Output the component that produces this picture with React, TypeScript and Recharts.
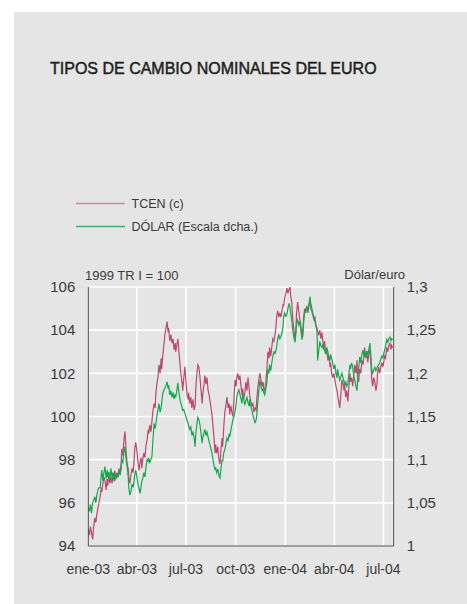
import React from "react";
import { LineChart, Line, XAxis, YAxis, CartesianGrid } from "recharts";

// Days elapsed since 1 Jan 2003 for each observation
const days = [
  0, 2, 4, 6, 8, 10, 12, 14, 16, 19, 22,
  24, 25, 27, 29, 31, 33, 35, 36, 38, 40,
  42, 44, 46, 48, 49, 51, 53, 55, 57, 59,
  61, 62, 64, 66, 68, 70, 72, 74, 75, 77,
  79, 81, 83, 85, 86, 88, 90, 92, 94, 96,
  98, 99, 101, 103, 105, 107, 109, 111, 112, 114,
  116, 118, 120, 122, 124, 125, 127, 129, 131, 133,
  135, 136, 138, 140, 142, 144, 146, 148, 149, 151,
  153, 155, 157, 159, 161, 162, 164, 166, 168, 170,
  172, 174, 175, 177, 179, 181, 183, 185, 186, 188,
  190, 192, 194, 196, 198, 199, 201, 203, 205, 207,
  209, 211, 212, 214, 216, 218, 220, 222, 224, 225,
  227, 229, 231, 233, 235, 236, 238, 240, 242, 244,
  246, 248, 249, 251, 253, 255, 257, 259, 261, 262,
  264, 266, 268, 270, 272, 274, 275, 277, 279, 281,
  283, 285, 286, 288, 290, 292, 294, 296, 298, 299,
  301, 303, 305, 307, 309, 311, 312, 314, 316, 318,
  320, 322, 324, 325, 327, 329, 331, 333, 335, 336,
  338, 340, 342, 344, 346, 348, 349, 351, 353, 355,
  357, 359, 361, 362, 364, 366, 368, 370, 372, 374,
  375, 377, 379, 381, 383, 385, 386, 388, 390, 392,
  394, 396, 398, 399, 401, 403, 405, 407, 409, 411,
  412, 414, 416, 418, 420, 422, 424, 425, 427, 429,
  431, 433, 435, 436, 438, 440, 442, 444, 446, 448,
  449, 451, 453, 455, 457, 459, 461, 462, 464, 466,
  468, 470, 472, 474, 475, 477, 479, 481, 483, 485,
  486, 488, 490, 492, 494, 496, 498, 499, 501, 503,
  505, 507, 509, 511, 512, 514, 516, 518, 520, 522,
  524, 525, 527, 529, 531, 533, 535, 536, 538, 540,
  542, 544, 546, 548, 549, 551, 553, 555, 557, 559,
  561, 562, 564,
];

// TCEN (c), 1999 TR I = 100
const tcen = [
  94.8, 94.5, 94.9, 94.6, 94.3, 94.9, 95.3, 95.1, 95.5, 95.9, 96.3,
  96.7, 96.5, 96.9, 97.2, 97.0, 96.6, 97.1, 96.8, 97.3, 96.9,
  97.2, 96.9, 97.4, 97.0, 97.5, 97.1, 97.4, 97.2, 97.6, 97.3,
  97.9, 98.5, 98.2, 98.9, 99.3, 98.4, 97.8, 97.6, 97.2, 96.9,
  97.3, 97.6, 97.4, 98.0, 98.5, 98.8, 98.4, 97.9, 97.5, 97.9,
  98.1, 97.6, 98.0, 98.3, 98.1, 98.7, 98.9, 99.4, 99.2, 99.6,
  99.3, 99.8, 100.3, 100.6, 100.4, 101.0, 101.5, 101.8, 102.4, 102.0,
  102.7, 102.2, 102.8, 103.3, 103.8, 104.1, 104.4, 103.9, 104.1, 103.5,
  103.8, 103.4, 103.6, 103.1, 103.4, 103.0, 103.3, 103.6, 103.0, 102.4,
  101.9, 101.5, 101.2, 101.8, 102.3, 101.6, 101.0, 100.8, 101.1, 100.6,
  100.9, 100.4, 100.8, 100.3, 100.5, 101.2, 101.9, 102.4, 102.3, 101.8,
  101.2, 100.6, 101.0, 101.4, 101.9, 101.5, 101.8, 101.2, 101.0, 100.8,
  100.5, 100.1, 99.6, 99.0, 98.3, 98.7, 98.3, 98.6, 98.0, 97.8,
  98.5, 99.0, 98.6, 99.5, 100.2, 100.5, 100.9, 100.4, 100.6, 100.1,
  100.5, 100.2, 100.0, 100.8, 101.7, 101.4, 101.8, 102.0, 101.7, 101.9,
  101.4, 101.0, 101.3, 100.8, 101.1, 101.6, 101.2, 101.8, 101.3, 101.0,
  100.7, 100.5, 100.6, 100.2, 100.4, 100.3, 100.7, 101.3, 101.7, 102.0,
  101.7, 101.4, 101.6, 101.3, 101.2, 101.6, 102.2, 103.0, 102.7, 103.2,
  102.8, 103.2, 103.6, 103.5, 103.8, 104.2, 104.6, 104.9, 104.6, 104.8,
  104.6, 104.9, 105.2, 105.1, 105.5, 105.7, 105.95, 105.7, 105.9, 106.0,
  105.6, 105.3, 104.5, 104.0, 103.5, 104.2, 104.8, 105.3, 104.9, 104.5,
  104.2, 103.7, 104.1, 104.6, 105.0, 104.8, 105.1, 104.9, 105.2, 105.4,
  105.0, 104.9, 104.7, 104.5, 104.6, 104.2, 104.1, 103.9, 103.8, 104.0,
  103.6, 103.9, 103.4, 103.1, 103.5, 102.9, 103.1, 102.6, 102.8, 102.3,
  102.5, 102.0, 101.8, 102.0, 101.7, 101.4, 101.2, 101.0, 100.7, 100.4,
  101.0, 101.7, 101.5, 101.2, 101.5, 100.9, 101.2, 100.7, 101.4, 102.0,
  101.6, 101.8, 101.4, 101.9, 102.4, 102.0, 102.6, 101.8, 101.6, 102.2,
  102.0, 102.6, 102.4, 102.8, 103.2, 102.7, 103.0, 102.5, 102.9, 103.1,
  102.4, 101.8, 101.4, 101.8, 101.6, 101.2, 101.5, 102.0, 102.3, 102.0,
  102.3, 102.5, 102.3, 102.6, 102.8, 102.7, 103.2, 103.0, 103.3, 103.4,
  103.1, 103.3, 103.2,
];

// DÓLAR, dólares por euro (escala dcha.)
const dolar = [
  1.045, 1.040, 1.048, 1.038, 1.050, 1.053, 1.057, 1.050, 1.060, 1.067, 1.068,
  1.082, 1.088, 1.076, 1.085, 1.092, 1.078, 1.088, 1.080, 1.086, 1.076,
  1.090, 1.079, 1.085, 1.075, 1.084, 1.078, 1.082, 1.080, 1.087, 1.082,
  1.090, 1.100, 1.097, 1.108, 1.115, 1.100, 1.092, 1.080, 1.068, 1.059,
  1.063, 1.072, 1.068, 1.076, 1.082, 1.088, 1.080, 1.072, 1.066, 1.061,
  1.070, 1.075, 1.078, 1.085, 1.080, 1.092, 1.100, 1.098, 1.102, 1.097,
  1.100, 1.104, 1.125, 1.142, 1.136, 1.140, 1.150, 1.158, 1.165, 1.155,
  1.160, 1.166, 1.177, 1.180, 1.183, 1.186, 1.190, 1.182, 1.186, 1.175,
  1.180, 1.172, 1.178, 1.170, 1.176, 1.172, 1.180, 1.189, 1.178, 1.169,
  1.165, 1.160, 1.157, 1.158, 1.154, 1.150, 1.145, 1.142, 1.139, 1.135,
  1.138, 1.128, 1.132, 1.126, 1.115, 1.128, 1.140, 1.149, 1.146, 1.140,
  1.130, 1.119, 1.125, 1.130, 1.135, 1.128, 1.132, 1.126, 1.121, 1.118,
  1.114, 1.108, 1.100, 1.093, 1.088, 1.091, 1.085, 1.089, 1.082, 1.079,
  1.090, 1.100, 1.098, 1.108, 1.112, 1.118, 1.125, 1.122, 1.130, 1.126,
  1.133, 1.140, 1.146, 1.150, 1.156, 1.165, 1.172, 1.178, 1.181, 1.176,
  1.170, 1.165, 1.176, 1.170, 1.164, 1.168, 1.172, 1.166, 1.162, 1.170,
  1.162, 1.158, 1.152, 1.147, 1.143, 1.146, 1.150, 1.165, 1.180, 1.192,
  1.185, 1.180, 1.182, 1.178, 1.175, 1.182, 1.190, 1.205, 1.200, 1.210,
  1.203, 1.212, 1.220, 1.225, 1.223, 1.227, 1.230, 1.240, 1.245, 1.240,
  1.243, 1.247, 1.255, 1.265, 1.270, 1.266, 1.268, 1.275, 1.281, 1.276,
  1.270, 1.262, 1.250, 1.242, 1.236, 1.248, 1.258, 1.262, 1.256, 1.260,
  1.250, 1.239, 1.245, 1.258, 1.270, 1.274, 1.277, 1.270, 1.280, 1.289,
  1.282, 1.276, 1.270, 1.265, 1.260, 1.255, 1.247, 1.215, 1.225, 1.237,
  1.232, 1.230, 1.233, 1.228, 1.227, 1.222, 1.230, 1.225, 1.218, 1.215,
  1.222, 1.217, 1.212, 1.205, 1.210, 1.200, 1.195, 1.205, 1.198, 1.192,
  1.196, 1.200, 1.195, 1.190, 1.186, 1.190, 1.185, 1.188, 1.200, 1.210,
  1.205, 1.212, 1.208, 1.196, 1.192, 1.185, 1.180, 1.190, 1.205, 1.219,
  1.212, 1.222, 1.227, 1.220, 1.225, 1.218, 1.226, 1.222, 1.228, 1.235,
  1.218, 1.205, 1.200, 1.204, 1.207, 1.203, 1.206, 1.208, 1.210, 1.212,
  1.216, 1.220, 1.218, 1.224, 1.227, 1.232, 1.239, 1.236, 1.240, 1.242,
  1.238, 1.240, 1.239,
];

const xTickDays = [0, 90, 181, 273, 365, 456, 547];
const xTickLabels = ["ene-03", "abr-03", "jul-03", "oct-03", "ene-04", "abr-04", "jul-04"];
const leftTicks = [94, 96, 98, 100, 102, 104, 106];
const rightTicks = [1, 1.05, 1.1, 1.15, 1.2, 1.25, 1.3];

const data = days.map((d, i) => ({ day: d, tcen: tcen[i], dolar: dolar[i] }));

const FONT = '"Liberation Sans", Arial, Helvetica, sans-serif';
const TEXT = "#3a3a3a";
const TCEN_COLOR = "#b9496d";
const DOLAR_COLOR = "#13a94b";

export default function App() {
  return (
    <div style={{ position: "absolute", left: 0, top: 0, width: 467, height: 604, background: "#ffffff", overflow: "hidden", fontFamily: FONT }}>
      <div style={{ position: "absolute", left: 14, top: 12, right: 0, bottom: 0, background: "#e5e5e5" }} />
      <div style={{ position: "absolute", left: 50, top: 60.5, fontSize: 16, lineHeight: "16px", color: "#1e1e1e", whiteSpace: "nowrap", WebkitTextStroke: "0.45px #1e1e1e" }}>
        TIPOS DE CAMBIO NOMINALES DEL EURO
      </div>
      {/* legend */}
      <svg style={{ position: "absolute", left: 0, top: 0 }} width={467} height={260}>
        <line x1={76} x2={125} y1={203.5} y2={203.5} stroke="#d1849a" strokeWidth={1.3} />
        <line x1={76} x2={125} y1={226.5} y2={226.5} stroke="#3fb466" strokeWidth={1.3} />
      </svg>
      <div style={{ position: "absolute", left: 131.5, top: 197.7, fontSize: 12.5, lineHeight: "12.5px", color: TEXT, whiteSpace: "nowrap" }}>TCEN (c)</div>
      <div style={{ position: "absolute", left: 131.5, top: 221.1, fontSize: 12.5, lineHeight: "12.5px", color: TEXT, whiteSpace: "nowrap" }}>DÓLAR (Escala dcha.)</div>
      {/* unit labels */}
      <div style={{ position: "absolute", left: 85, top: 269, fontSize: 13, lineHeight: "13px", color: TEXT, whiteSpace: "nowrap" }}>1999 TR I = 100</div>
      <div style={{ position: "absolute", right: 467 - 405, top: 268, fontSize: 13, lineHeight: "13px", color: TEXT, whiteSpace: "nowrap", textAlign: "right" }}>Dólar/euro</div>
      <div style={{ position: "absolute", left: 0, top: 0 }}>
        <LineChart
          width={467}
          height={604}
          data={data}
          margin={{ top: 287, right: 13.3, bottom: 28, left: 28.3 }}
          style={{ fontFamily: FONT }}
        >
          <CartesianGrid yAxisId="left" stroke="#ffffff" strokeWidth={1.6} />
          <XAxis
            dataKey="day"
            type="number"
            domain={[0, 566]}
            ticks={xTickDays}
            interval={0}
            tickFormatter={(v) => xTickLabels[xTickDays.indexOf(v)] ?? ""}
            tickLine={false}
            tickSize={0}
            tickMargin={18}
            height={30}
            axisLine={{ stroke: "#444444", strokeWidth: 1 }}
            tick={{ fill: TEXT, fontSize: 14, fontFamily: FONT }}
            allowDataOverflow
          />
          <YAxis
            yAxisId="left"
            orientation="left"
            domain={[94, 106]}
            ticks={leftTicks}
            interval={0}
            width={60}
            tickLine={false}
            tickSize={0}
            tickMargin={13}
            axisLine={{ stroke: "#444444", strokeWidth: 1 }}
            tick={{ fill: TEXT, fontSize: 15, fontFamily: FONT }}
            allowDataOverflow
          />
          <YAxis
            yAxisId="right"
            orientation="right"
            domain={[1, 1.3]}
            ticks={rightTicks}
            interval={0}
            width={60}
            tickLine={false}
            tickSize={0}
            tickMargin={13}
            tickFormatter={(v) => String(v).replace(".", ",")}
            axisLine={{ stroke: "#444444", strokeWidth: 1 }}
            tick={{ fill: TEXT, fontSize: 15, fontFamily: FONT, textAnchor: "start" }}
            allowDataOverflow
          />
          <Line
            yAxisId="left"
            type="linear"
            dataKey="tcen"
            stroke={TCEN_COLOR}
            strokeWidth={1.2}
            dot={false}
            isAnimationActive={false}
          />
          <Line
            yAxisId="right"
            type="linear"
            dataKey="dolar"
            stroke={DOLAR_COLOR}
            strokeWidth={1.2}
            dot={false}
            isAnimationActive={false}
          />
        </LineChart>
      </div>
    </div>
  );
}
